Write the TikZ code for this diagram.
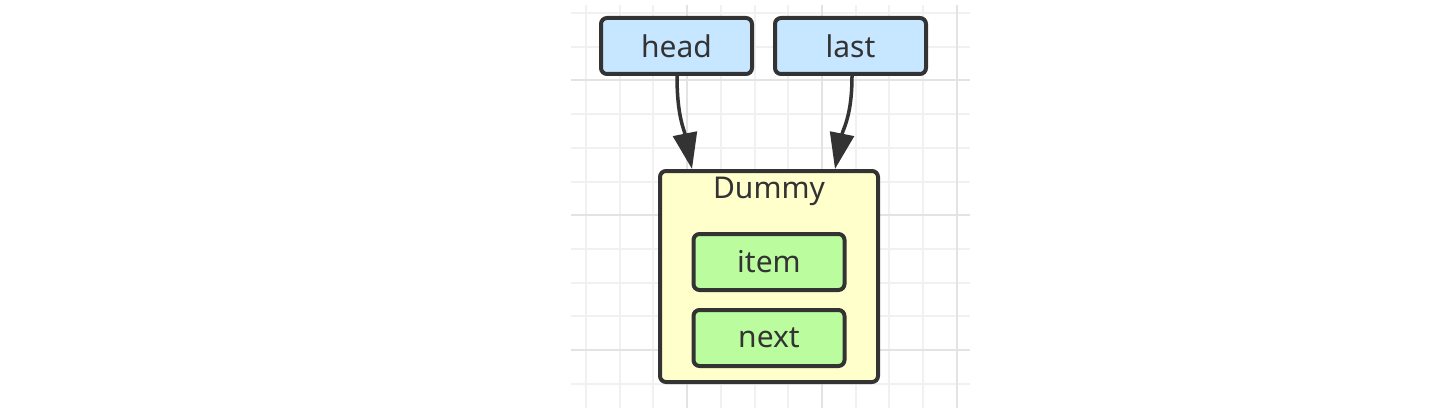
\documentclass[tikz,border=0pt]{standalone}
\usepackage{fontspec}
\setmainfont{Noto Sans}
\usetikzlibrary{positioning,arrows.meta}
\definecolor{linegray}{HTML}{333333}
\definecolor{refblue}{HTML}{C7E6FF}
\definecolor{dummyyellow}{HTML}{FFFFCC}
\definecolor{fieldgreen}{HTML}{BBFC9E}
\definecolor{gridlight}{HTML}{F1F1F1}
\definecolor{griddark}{HTML}{E3E3E3}

\begin{document}
\begin{tikzpicture}[x=1pt,y=-1pt,
  gridminor/.style={draw=gridlight,line width=2pt},
  gridmajor/.style={draw=griddark,line width=2pt},
  refbox/.style={rectangle,draw=linegray,line width=4pt,rounded corners=6pt,fill=refblue,text=linegray,minimum width=151pt,minimum height=56pt,font=\fontsize{30}{36}\selectfont},
  dummybox/.style={rectangle,draw=linegray,line width=4pt,rounded corners=6pt,fill=dummyyellow,minimum width=218pt,minimum height=211pt},
  fieldbox/.style={refbox,fill=fieldgreen},
  pointer/.style={draw=linegray,line width=3.5pt,-{Triangle[length=36pt,width=24pt]}}]
\useasboundingbox (0,0) rectangle (1451,417);
\fill[white] (0,0) rectangle (1451,417);
% grid
\foreach \i in {0,...,11} {
  \draw[gridminor] (586+33.7*\i,5) -- (586+33.7*\i,408);
  \draw[gridminor] (571,13+33.7*\i) -- (970,13+33.7*\i);
}
\foreach \i in {3,7,11} \draw[gridmajor] (586+33.7*\i,5) -- (586+33.7*\i,408);
\foreach \i in {2,6,10} \draw[gridmajor] (571,13+33.7*\i) -- (970,13+33.7*\i);
% nodes
\node[refbox] (head) at (676.5,46) {head};
\node[right=19pt of head,refbox] (last) {last};
\node[below=93pt of head,xshift=92.5pt,dummybox,
  label={[anchor=north,inner sep=0pt,yshift=-8pt,text=linegray,font=\fontsize{30}{36}\selectfont]north:Dummy}] (dummy) {};
\node[below=63pt of dummy.north,fieldbox] (item) {item};
\node[below=16pt of item,fieldbox] (next) {next};
% pointers
\draw[pointer] ([xshift=0.5pt]head.south) .. controls +(0,40) and +(-8,-40) .. ([xshift=-77pt]dummy.north);
\draw[pointer] ([xshift=1.5pt]last.south) .. controls +(0,40) and +(8,-40) .. ([xshift=66pt]dummy.north);
\end{tikzpicture}
\end{document}
